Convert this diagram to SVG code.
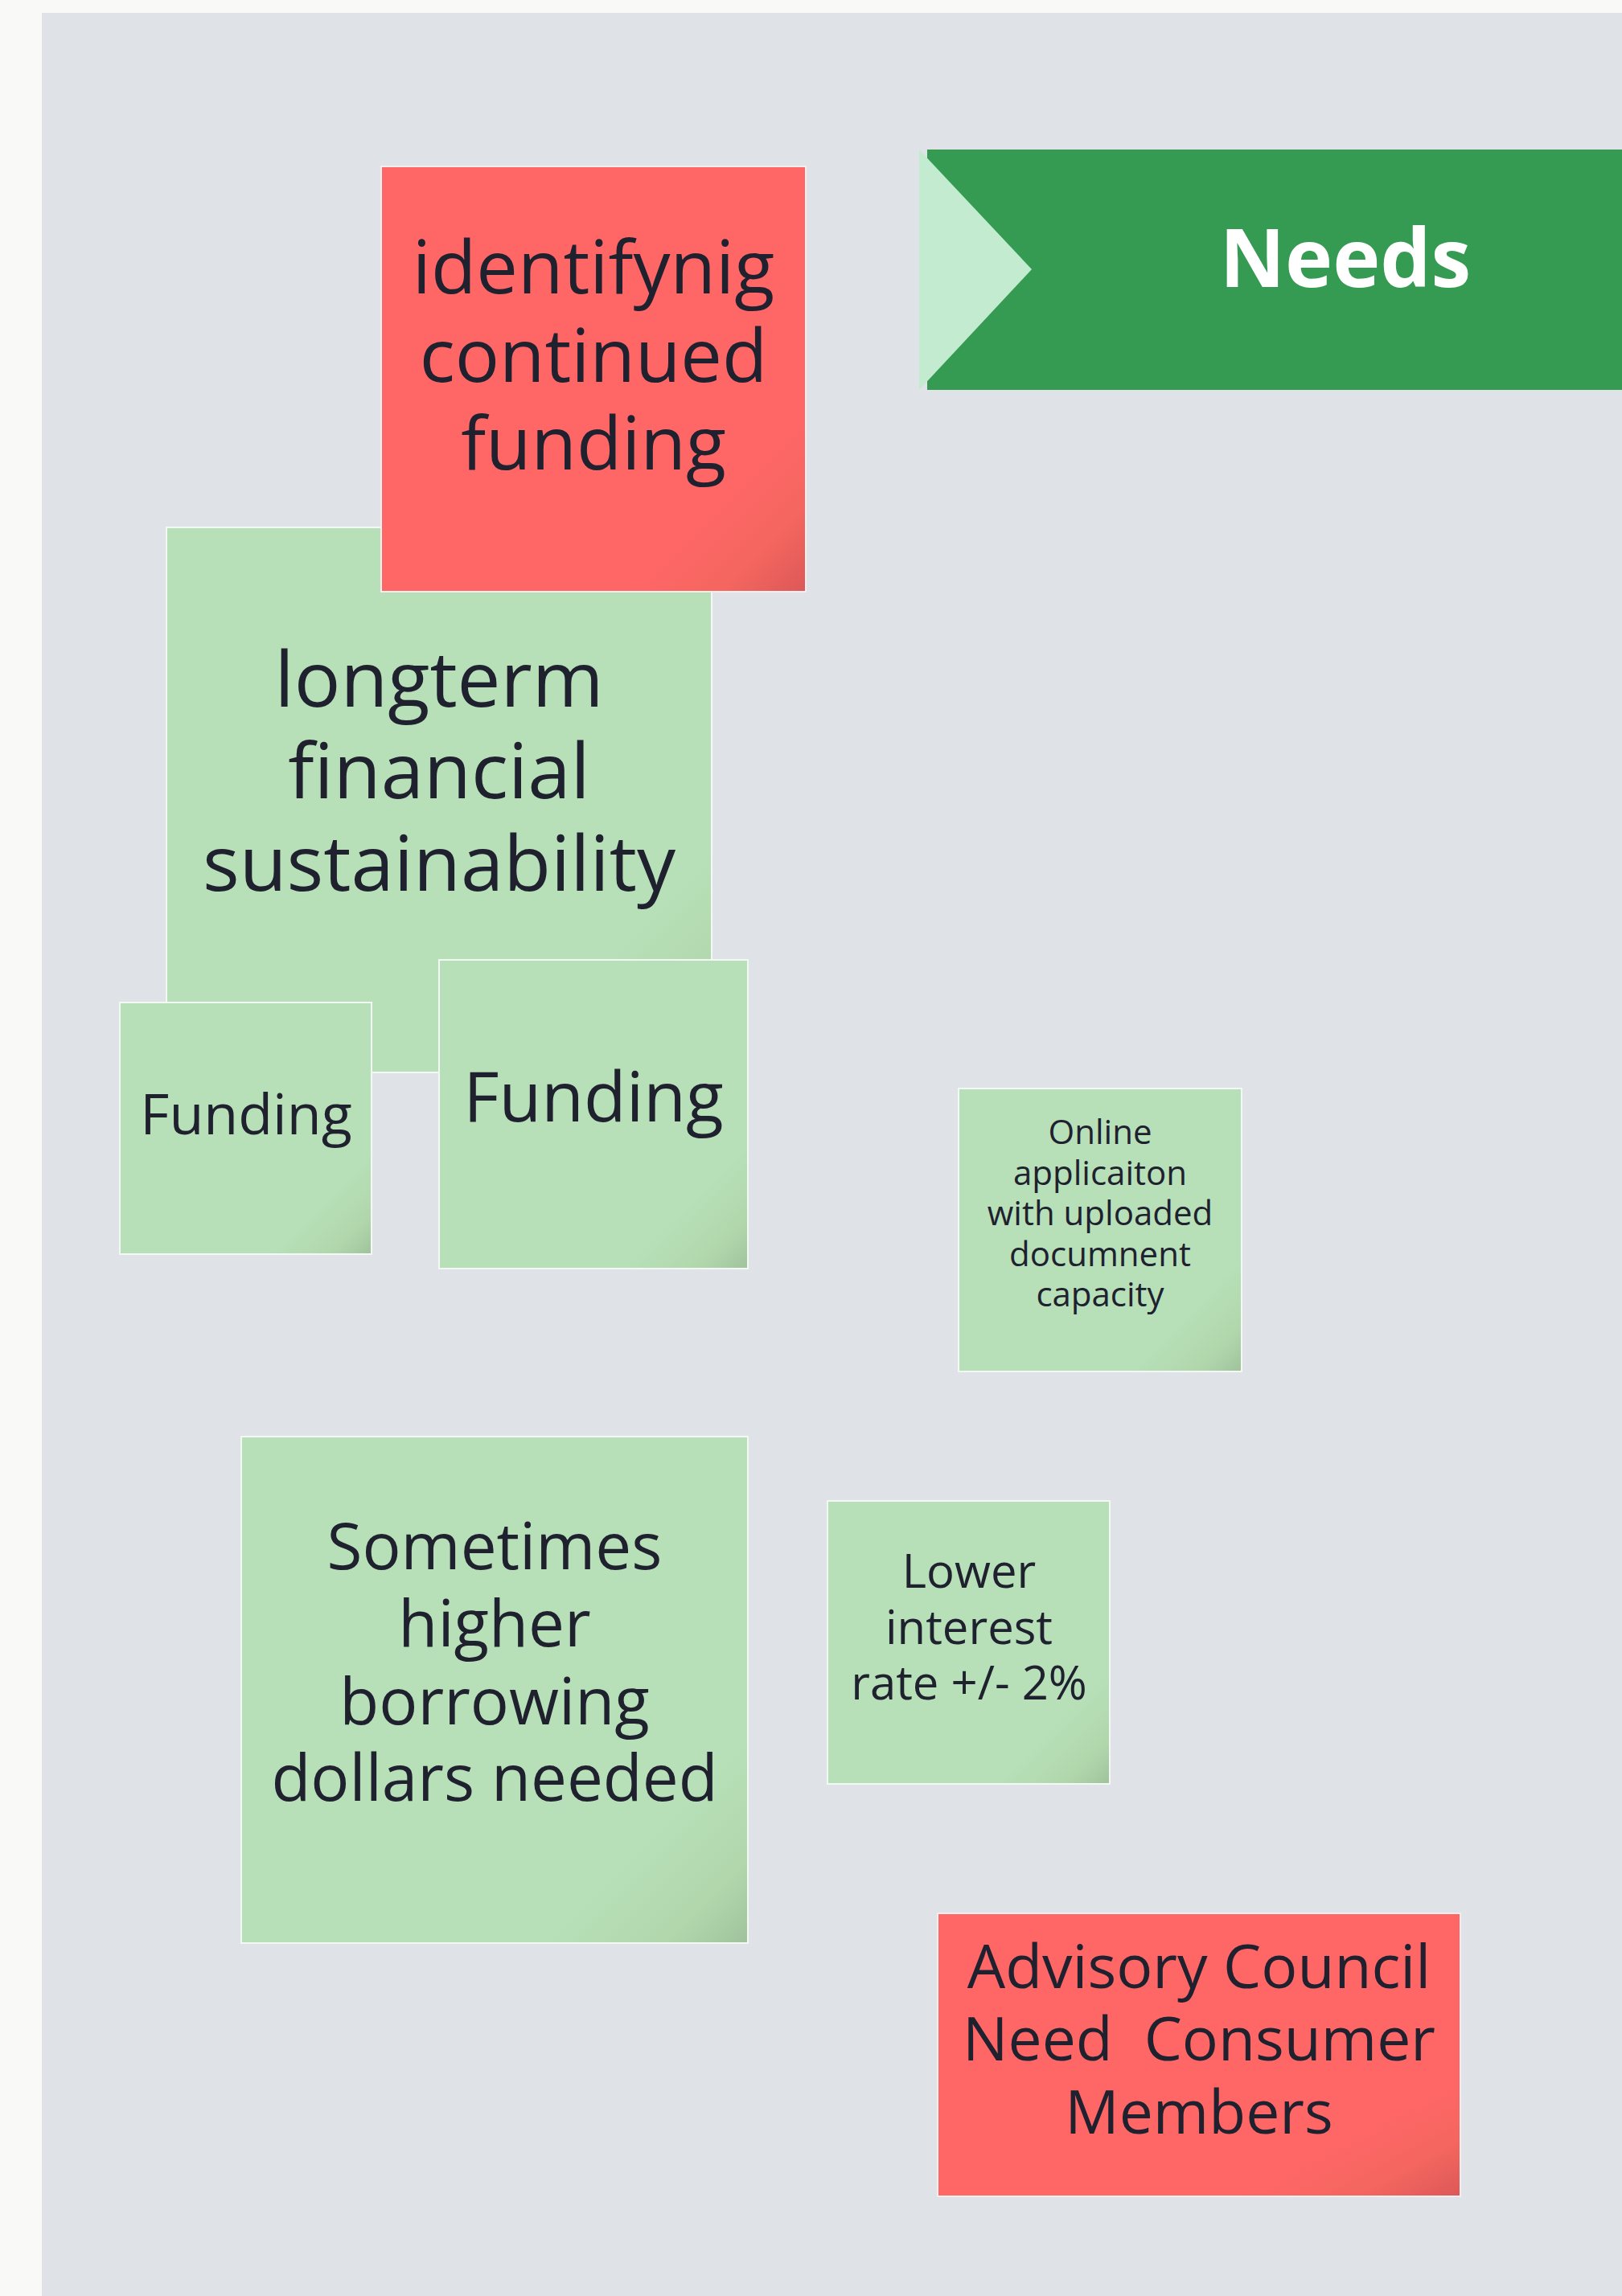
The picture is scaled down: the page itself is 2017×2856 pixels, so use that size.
<svg xmlns="http://www.w3.org/2000/svg" width="2017" height="2856" viewBox="0 0 2017 2856">
<style>
.t{font-family:"Open Sans","Noto Sans","Liberation Sans",sans-serif;fill:#20212f;text-anchor:middle}
.g{fill:url(#gg);stroke:#f4f8f4;stroke-width:2}
.r{fill:url(#rg);stroke:#f6eeee;stroke-width:2}
</style>
<defs>
<linearGradient id="gg" x1="0" y1="0" x2="1" y2="1">
<stop offset="0" stop-color="#b7e0b8"/>
<stop offset="0.8" stop-color="#b7e0b8"/>
<stop offset="0.92" stop-color="#b1d6ac"/>
<stop offset="1" stop-color="#9fc29c"/>
</linearGradient>
<linearGradient id="rg" x1="0" y1="0" x2="1" y2="1">
<stop offset="0" stop-color="#ff6767"/>
<stop offset="0.78" stop-color="#ff6767"/>
<stop offset="0.9" stop-color="#f4665f"/>
<stop offset="1" stop-color="#dc5858"/>
</linearGradient>
</defs>
<rect x="0" y="0" width="2017" height="2856" fill="#f9f9f7"/>
<rect x="52" y="16" width="1965" height="2840" fill="#dfe2e7"/>
<g id="needs-banner">
<rect x="1153" y="186" width="864" height="299" fill="#359a52"/>
<polygon points="1143,186 1283,335 1143,485" fill="#c3ebd0"/>
<text x="1673" y="357" font-family="Open Sans,Noto Sans,sans-serif" font-weight="bold" font-size="100" fill="#ffffff" text-anchor="middle">Needs</text>
</g>
<g id="longterm">
<rect class="g" x="207" y="656" width="678" height="678"/>
<text class="t" font-size="96"><tspan x="546" y="879">longterm</tspan><tspan x="546" y="993">financial</tspan><tspan x="546" y="1108">sustainability</tspan></text>
</g>
<g id="identifying">
<rect class="r" x="474" y="207" width="528" height="529"/>
<text class="t" font-size="92"><tspan x="738" y="365">identifynig</tspan><tspan x="738" y="475">continued</tspan><tspan x="738" y="584">funding</tspan></text>
</g>
<g id="funding-small">
<rect class="g" x="149" y="1247" width="313" height="313"/>
<text class="t" font-size="70" x="306" y="1411">Funding</text>
</g>
<g id="funding-large">
<rect class="g" x="546" y="1194" width="384" height="384"/>
<text class="t" font-size="86" x="738" y="1395">Funding</text>
</g>
<g id="online">
<rect class="g" x="1192" y="1354" width="352" height="352"/>
<text class="t" font-size="42"><tspan x="1368" y="1423">Online</tspan><tspan x="1368" y="1474">applicaiton</tspan><tspan x="1368" y="1524">with uploaded</tspan><tspan x="1368" y="1575">documnent</tspan><tspan x="1368" y="1625">capacity</tspan></text>
</g>
<g id="sometimes">
<rect class="g" x="300" y="1787" width="630" height="630"/>
<text class="t" font-size="80"><tspan x="615" y="1952">Sometimes</tspan><tspan x="615" y="2048">higher</tspan><tspan x="615" y="2145">borrowing</tspan><tspan x="615" y="2240">dollars needed</tspan></text>
</g>
<g id="lower">
<rect class="g" x="1029" y="1867" width="351" height="352"/>
<text class="t" font-size="58"><tspan x="1205" y="1975">Lower</tspan><tspan x="1205" y="2045">interest</tspan><tspan x="1205" y="2114">rate +/- 2%</tspan></text>
</g>
<g id="advisory">
<rect class="r" x="1166" y="2380" width="650" height="352"/>
<text class="t" font-size="75" xml:space="preserve"><tspan x="1491" y="2473">Advisory Council</tspan><tspan x="1491" y="2563">Need  Consumer</tspan><tspan x="1491" y="2654">Members</tspan></text>
</g>
<g id="connectors"/>
</svg>
